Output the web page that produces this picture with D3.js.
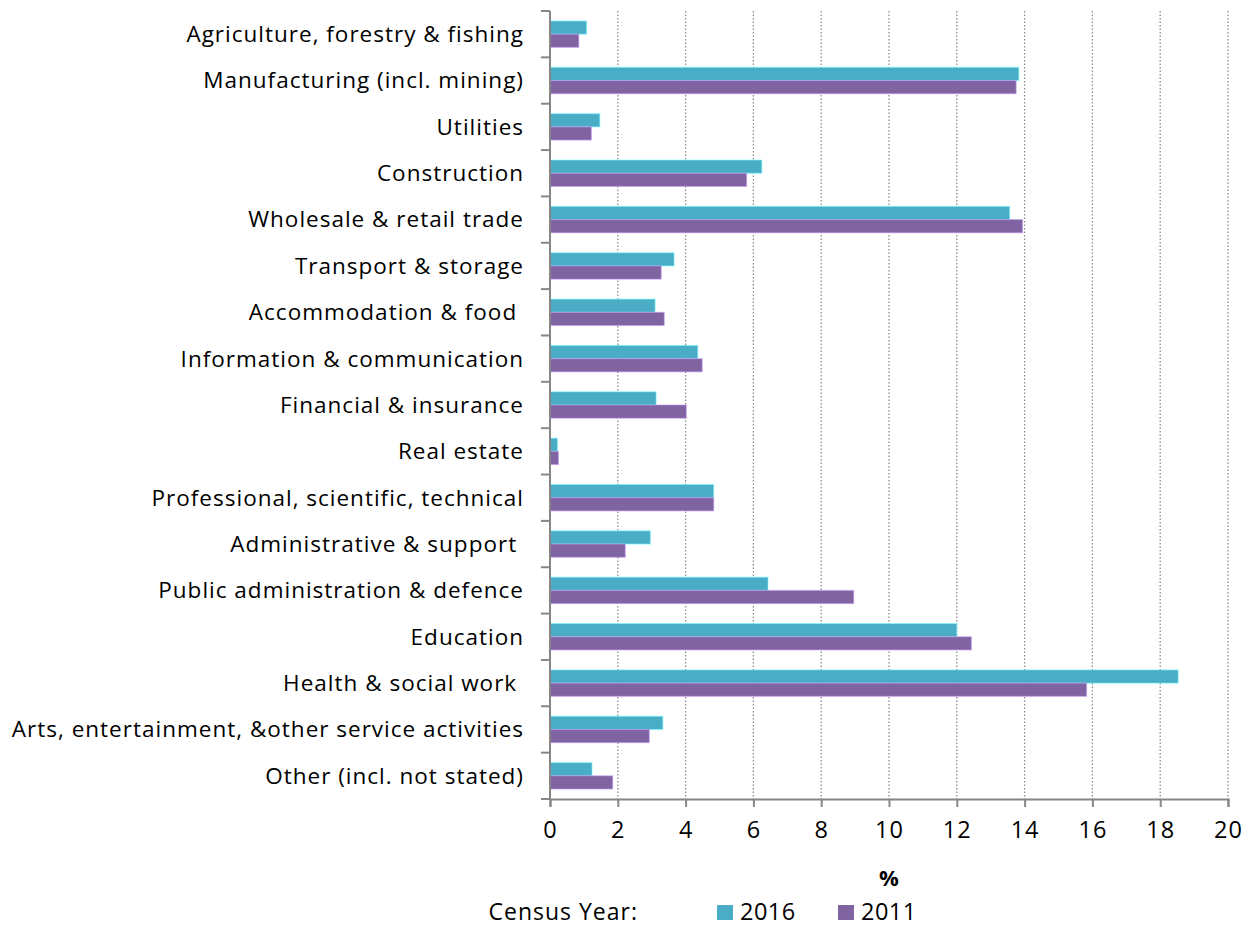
<!DOCTYPE html>
<html>
<head>
<meta charset="utf-8">
<script src="https://cdn.jsdelivr.net/npm/d3@7"></script>
<style>
  body { margin: 0; background: #fff; }
  text { font-family: "Open Sans", Lato, sans-serif; fill: #000; }
</style>
</head>
<body>
<div id="chart"></div>
<script>
const categories = [
    "Agriculture, forestry & fishing",
    "Manufacturing (incl. mining)",
    "Utilities",
    "Construction",
    "Wholesale & retail trade",
    "Transport & storage",
    "Accommodation & food ",
    "Information & communication",
    "Financial & insurance",
    "Real estate",
    "Professional, scientific, technical",
    "Administrative & support ",
    "Public administration & defence",
    "Education",
    "Health & social work ",
    "Arts, entertainment, &other service activities",
    "Other (incl. not stated)"
];
const values2016 = [1.08, 13.83, 1.47, 6.25, 13.56, 3.66, 3.10, 4.36, 3.13, 0.22, 4.83, 2.96, 6.43, 12.0, 18.53, 3.33, 1.24];
const values2011 = [0.85, 13.75, 1.22, 5.80, 13.94, 3.28, 3.37, 4.49, 4.02, 0.25, 4.83, 2.22, 8.96, 12.43, 15.83, 2.93, 1.85];
const xTicks = [0, 2, 4, 6, 8, 10, 12, 14, 16, 18, 20];
const seriesNames = ["2016", "2011"];
const seriesColors = ["#4BACC6", "#8064A2"];

const margin = { top: 11, right: 24, bottom: 129, left: 550 },
    width = 1252 - margin.left - margin.right,
    height = 928 - margin.top - margin.bottom;

const svg = d3.select("#chart")
    .append("svg")
    .attr("width", 1252)
    .attr("height", 928);

const chartArea = svg.append("g")
    .attr("transform", `translate(${margin.left}, ${margin.top})`);

const x = d3.scaleLinear().domain([0, 20]).range([0, 678]);
const y = d3.scaleBand().domain(categories).range([0, height]).paddingInner(0).paddingOuter(0);
const inner = d3.scaleBand().domain(seriesNames).range([y.bandwidth() * 0.215, y.bandwidth() * 0.785]);

// dotted gridlines
chartArea.selectAll(".grid")
    .data(xTicks.filter(d => d > 0))
    .join("line")
    .attr("class", "grid")
    .attr("x1", d => x(d)).attr("x2", d => x(d))
    .attr("y1", 0).attr("y2", height)
    .attr("stroke", "#8c8c8c")
    .attr("stroke-width", 1.3)
    .attr("stroke-dasharray", "1.5,2");

// bars
const data = [];
categories.forEach((c, i) => {
    data.push({ cat: c, series: "2016", value: values2016[i] });
    data.push({ cat: c, series: "2011", value: values2011[i] });
});

chartArea.selectAll(".bar")
    .data(data)
    .join("rect")
    .attr("class", "bar")
    .attr("x", 0)
    .attr("y", d => y(d.cat) + inner(d.series))
    .attr("width", d => x(d.value))
    .attr("height", inner.bandwidth())
    .attr("fill", d => seriesColors[seriesNames.indexOf(d.series)])
    .attr("stroke", d => d3.color(seriesColors[seriesNames.indexOf(d.series)]).brighter(1.2))
    .attr("stroke-opacity", 0.6)
    .attr("stroke-width", 1);

// x axis
const xAxis = chartArea.append("g")
    .attr("transform", `translate(0, ${height})`)
    .call(d3.axisBottom(x).tickValues(xTicks).tickSize(8).tickPadding(14));
xAxis.select(".domain").attr("stroke", "#868686").attr("stroke-width", 2);
xAxis.selectAll(".tick line").attr("stroke", "#868686").attr("stroke-width", 2);
xAxis.selectAll(".tick text")
    .style("font-size", "23.5px")
    .style("letter-spacing", "1px")
    .attr("fill", "#000");

// y axis: line + ticks at band boundaries
chartArea.append("line")
    .attr("x1", 0).attr("x2", 0).attr("y1", 0).attr("y2", height)
    .attr("stroke", "#868686").attr("stroke-width", 2);

const boundaries = categories.map(c => y(c)).concat([height]);
chartArea.selectAll(".ytick")
    .data(boundaries)
    .join("line")
    .attr("class", "ytick")
    .attr("x1", -9).attr("x2", 0)
    .attr("y1", d => d).attr("y2", d => d)
    .attr("stroke", "#868686").attr("stroke-width", 2);

chartArea.selectAll(".ylabel")
    .data(categories)
    .join("text")
    .attr("class", "ylabel")
    .attr("x", -26)
    .attr("y", d => y(d) + y.bandwidth() / 2)
    .attr("dy", "0.35em")
    .attr("text-anchor", "end")
    .style("white-space", "pre")
    .style("font-size", "22.5px")
    .style("letter-spacing", "1px")
    .text(d => d);

// axis title
svg.append("text")
    .attr("x", margin.left + x(10))
    .attr("y", 878)
    .attr("dy", "0.35em")
    .attr("text-anchor", "middle")
    .style("font-size", "22px")
    .style("font-weight", "bold")
    .text("%");

// legend
const legend = svg.append("g").attr("transform", "translate(0, 920)");
legend.append("text")
    .attr("x", 638)
    .attr("text-anchor", "end")
    .style("font-size", "23px")
    .style("letter-spacing", "1px")
    .text("Census Year:");

const legendX = [717, 838];
seriesNames.forEach((s, i) => {
    legend.append("rect")
        .attr("x", legendX[i]).attr("y", -15)
        .attr("width", 16).attr("height", 15)
        .attr("fill", seriesColors[i]);
    legend.append("text")
        .attr("x", legendX[i] + 23)
        .style("font-size", "23.5px")
        .style("letter-spacing", "0.5px")
        .text(s);
});
</script>
</body>
</html>
